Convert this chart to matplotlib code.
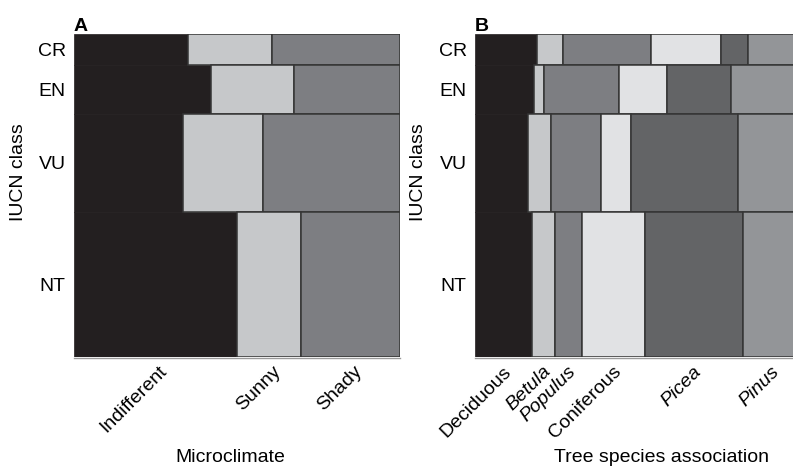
import numpy as np
import matplotlib
matplotlib.use("Agg")
import matplotlib.pyplot as plt
from matplotlib import transforms

plt.rcParams['font.family'] = ['Liberation Sans', 'DejaVu Sans']

# ---- data -------------------------------------------------------------
iucn_classes = ["CR", "EN", "VU", "NT"]
class_share = [0.096, 0.152, 0.302, 0.450]

micro_categories = ["Indifferent", "Sunny", "Shady"]
micro_italic = [False, False, False]
micro_colors = ["#231f20", "#c6c8ca", "#7d7e82"]
micro_share = {
    "CR": [0.350, 0.258, 0.392],
    "EN": [0.420, 0.255, 0.325],
    "VU": [0.334, 0.245, 0.421],
    "NT": [0.500, 0.196, 0.304],
}

tree_categories = ["Deciduous", "Betula", "Populus", "Coniferous", "Picea", "Pinus"]
tree_italic = [False, True, True, False, True, True]
tree_colors = ["#231f20", "#c6c8ca", "#7d7e82", "#e1e2e4", "#636466", "#939598"]
tree_share = {
    "CR": [0.189, 0.080, 0.270, 0.217, 0.080, 0.164],
    "EN": [0.180, 0.032, 0.230, 0.147, 0.197, 0.214],
    "VU": [0.163, 0.071, 0.152, 0.091, 0.329, 0.194],
    "NT": [0.174, 0.072, 0.081, 0.196, 0.298, 0.179],
}

W, H = 793, 468
fig = plt.figure(figsize=(W / 100, H / 100), dpi=100)

FS = 14
EDGE = "#353535"


def mosaic(ax, shares, cats, colors, italics, label_dx):
    bottoms = np.concatenate([[0], np.cumsum(class_share)[:-1]])
    edges = [colors[0]] + [EDGE] * (len(colors) - 1)
    for ci, cls in enumerate(iucn_classes):
        vals = np.array(shares[cls])
        vals = vals / vals.sum()
        lefts = np.concatenate([[0], np.cumsum(vals)[:-1]])
        # first (black) category without outline, others outlined on top
        ax.barh([bottoms[ci]], vals[:1], left=lefts[:1],
                height=class_share[ci], align='edge', color=colors[:1],
                edgecolor=colors[0], linewidth=0.5, zorder=2)
        ax.barh([bottoms[ci]] * (len(vals) - 1), vals[1:], left=lefts[1:],
                height=class_share[ci], align='edge', color=colors[1:],
                edgecolor=EDGE, linewidth=1.1, zorder=3)
    ax.set_xlim(0, 1)
    ax.set_ylim(1, 0)
    ax.set_yticks(bottoms + np.array(class_share) / 2)
    ax.set_yticklabels(iucn_classes, fontsize=FS)
    ax.tick_params(axis='y', length=0, pad=6)
    ax.set_xticks([])
    for s in ["top", "right", "left"]:
        ax.spines[s].set_visible(False)
    ax.spines["bottom"].set_color("#9a9a9a")
    ax.spines["bottom"].set_linewidth(1.0)
    ax.spines["bottom"].set_position(("outward", 1))

    # category labels under bottom row
    last = np.array(shares[iucn_classes[-1]])
    last = last / last.sum()
    lefts = np.concatenate([[0], np.cumsum(last)[:-1]])
    centers = lefts + last / 2
    base = transforms.blended_transform_factory(ax.transData, ax.transAxes)
    for c, name, it in zip(centers, cats, italics):
        tr = base + transforms.ScaledTranslation(label_dx / 100, -6 / 100, fig.dpi_scale_trans)
        ax.text(c, 0, name, transform=tr, rotation=45, rotation_mode='anchor',
                ha='right', va='top', fontsize=FS,
                style='italic' if it else 'normal')


axA = fig.add_axes([74 / W, (H - 357) / H, 326 / W, 323 / H])
mosaic(axA, micro_share, micro_categories, micro_colors, micro_italic, 3)
axB = fig.add_axes([475 / W, (H - 357) / H, 326 / W, 323 / H])
mosaic(axB, tree_share, tree_categories, tree_colors, tree_italic, -1)

# panel letters
fig.text(74 / W, 1 - 31 / H, "A", fontsize=FS, fontweight='bold', ha='left', va='baseline')
fig.text(475 / W, 1 - 31 / H, "B", fontsize=FS, fontweight='bold', ha='left', va='baseline')

# axis titles
fig.text(18.5 / W, 1 - 172 / H, "IUCN class", rotation=90, fontsize=FS, ha='center', va='center')
fig.text(418.5 / W, 1 - 172 / H, "IUCN class", rotation=90, fontsize=FS, ha='center', va='center')
fig.text(230 / W, 1 - 458 / H, "Microclimate", fontsize=FS, ha='center', va='center')
fig.text(661 / W, 1 - 458 / H, "Tree species association", fontsize=FS, ha='center', va='center')

fig.savefig("out.png", dpi=100)
